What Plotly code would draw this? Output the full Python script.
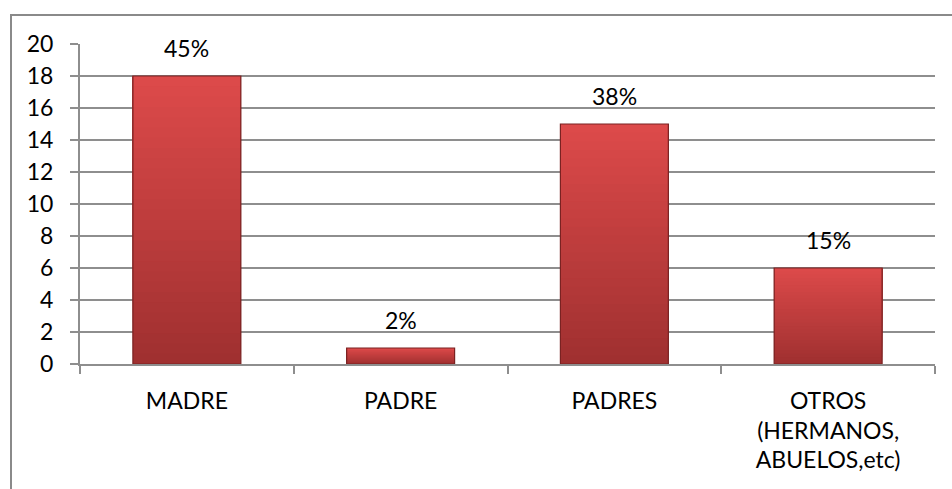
import plotly.graph_objects as go

# Respuestas por categoría
categorias = ["MADRE", "PADRE", "PADRES", "OTROS<br>(HERMANOS,<br>ABUELOS,etc)"]
valores = [18, 1, 15, 6]
porcentajes = ["45%", "2%", "38%", "15%"]
ticks_y = [0, 2, 4, 6, 8, 10, 12, 14, 16, 18, 20]

FONT = "Lato"
GRID = "#8e8e8e"

fig = go.Figure()

# Barras con degradado vertical: capas superpuestas, de oscuro (abajo) a claro (arriba)
top_rgb = (220, 74, 74)
bot_rgb = (160, 48, 48)
N = 28
for k in range(N):
    t = k / (N - 1)
    c = tuple(round(bot_rgb[i] + (top_rgb[i] - bot_rgb[i]) * t) for i in range(3))
    frac = k / N
    fig.add_trace(go.Bar(
        x=categorias,
        y=[v * (1 - frac) for v in valores],
        base=[v * frac for v in valores],
        marker=dict(color="rgb(%d,%d,%d)" % c, line=dict(width=0)),
        hoverinfo="skip",
        showlegend=False,
    ))

# Contorno de cada barra
fig.add_trace(go.Bar(
    x=categorias,
    y=valores,
    marker=dict(color="rgba(0,0,0,0)", line=dict(color="#7a2222", width=1.2)),
    hoverinfo="skip",
    showlegend=False,
))

# Etiquetas de porcentaje sobre cada barra
annotations = [
    dict(x=cat, y=val, text=pct, showarrow=False, xref="x", yref="y",
         yanchor="bottom", yshift=12,
         font=dict(family=FONT, size=23, color="#000000"))
    for cat, val, pct in zip(categorias, valores, porcentajes)
]

fig.update_layout(
    width=952,
    height=489,
    margin=dict(l=80, r=17, t=44, b=125),
    paper_bgcolor="white",
    plot_bgcolor="white",
    barmode="overlay",
    bargap=0.495,
    font=dict(family=FONT, size=23, color="#000000"),
    annotations=annotations,
    xaxis=dict(
        type="category",
        showgrid=False,
        showline=True,
        linecolor=GRID,
        linewidth=2,
        ticks="outside",
        tickson="boundaries",
        ticklen=8,
        tickwidth=2,
        tickcolor=GRID,
        ticklabelstandoff=15,
        tickfont=dict(family=FONT, size=23),
    ),
    yaxis=dict(
        range=[0, 20],
        tickvals=ticks_y,
        showgrid=True,
        gridcolor=GRID,
        gridwidth=2,
        showline=True,
        linecolor=GRID,
        linewidth=2,
        ticks="outside",
        ticklen=8,
        tickwidth=2,
        tickcolor=GRID,
        ticklabelstandoff=12,
        zeroline=False,
        tickfont=dict(family=FONT, size=23),
    ),
    shapes=[
        dict(
            type="rect", xref="paper", yref="paper",
            x0=-0.0807, x1=1.03, y0=-0.45, y1=1.0906,
            line=dict(color="#8a8a8a", width=2),
            fillcolor="rgba(0,0,0,0)",
            layer="below",
        )
    ],
)

fig.write_html("out.html")
